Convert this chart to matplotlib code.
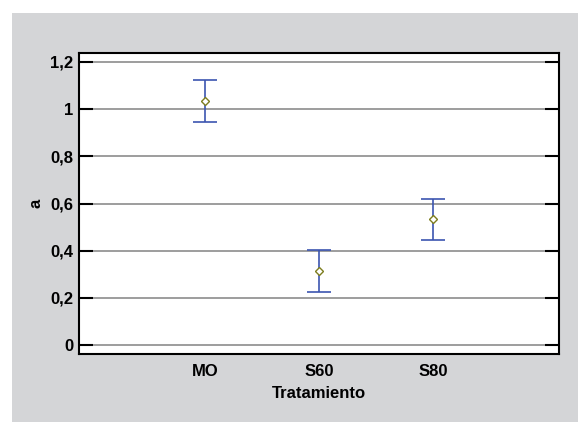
import matplotlib.pyplot as plt
from matplotlib.patches import Rectangle

plt.rcParams['font.family'] = ['Liberation Sans', 'DejaVu Sans']

# datos
tratamientos = ['MO', 'S60', 'S80']
posiciones = [1, 2, 3]
medias = [1.034, 0.312, 0.534]
limite_sup = [1.123, 0.404, 0.620]
limite_inf = [0.945, 0.226, 0.444]
yticks = [0, 0.2, 0.4, 0.6, 0.8, 1.0, 1.2]
yticklabels = ['0', '0,2', '0,4', '0,6', '0,8', '1', '1,2']

fig = plt.figure(figsize=(5.78, 4.22), dpi=100)
fig.patch.set_facecolor('white')
fig.patches.append(Rectangle((12 / 578, 0), 566 / 578, 409 / 422,
                             transform=fig.transFigure, facecolor='#d4d5d7',
                             edgecolor='none', zorder=-10))

ax = fig.add_axes([79 / 578, 68 / 422, 480 / 578, 301 / 422])
ax.set_facecolor('white')

for y in yticks:
    ax.axhline(y, color='#8c8c8c', lw=1.2, zorder=1)

err = [[m - lo for m, lo in zip(medias, limite_inf)],
       [hi - m for m, hi in zip(medias, limite_sup)]]
ax.errorbar(posiciones, medias, yerr=err, fmt='none', ecolor='#3c55b0',
            elinewidth=1.2, capsize=8.6, capthick=1.2, zorder=3)
ax.plot(posiciones, medias, 'D', mfc='white', mec='#7d7d1e', ms=4.5,
        mew=1.0, zorder=4)

ax.set_xlim(-0.105, 4.105)
ax.set_ylim(-0.038, 1.238)
ax.set_xticks(posiciones)
ax.set_xticklabels(tratamientos, fontsize=12, fontweight='bold')
ax.set_yticks(yticks)
ax.set_yticklabels(yticklabels, fontsize=12, fontweight='bold')
ax.tick_params(axis='x', length=0, pad=7)
ax.tick_params(axis='y', direction='in', length=10, width=1.5,
               right=True, pad=4)
for s in ax.spines.values():
    s.set_linewidth(1.5)
    s.set_color('black')

ax.set_xlabel('Tratamiento', fontsize=12, fontweight='bold', labelpad=5)
ax.set_ylabel('a', fontsize=12, fontweight='bold', labelpad=5)

fig.savefig('out.png', dpi=100)
